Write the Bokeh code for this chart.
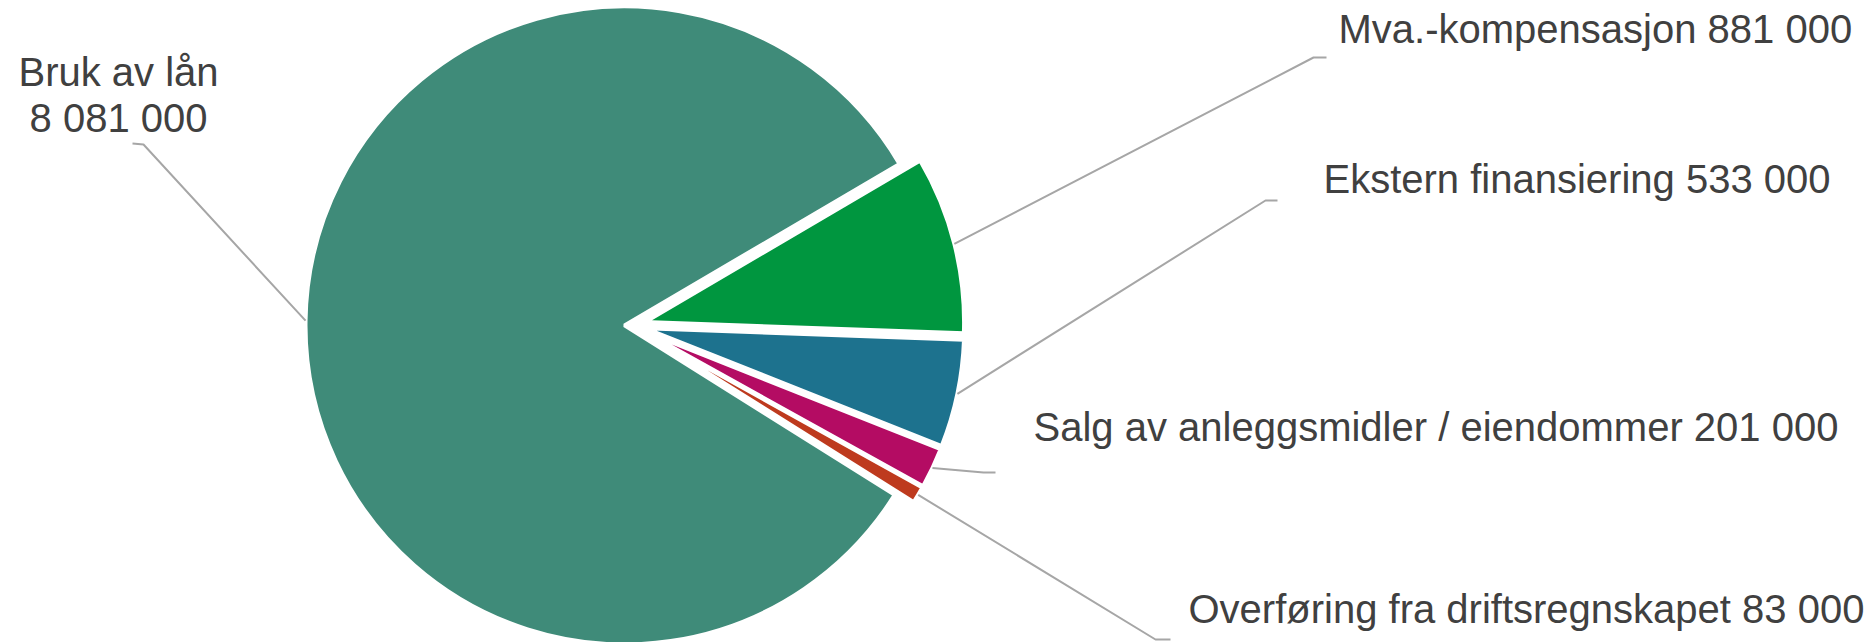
import math
from bokeh.plotting import figure
from bokeh.models import Range1d, ColumnDataSource
from bokeh.core.properties import value
from bokeh.embed import file_html
from bokeh.resources import INLINE

# ---------------- data ----------------
categories = [
    "Bruk av lån",
    "Mva.-kompensasjon",
    "Ekstern finansiering",
    "Salg av anleggsmidler / eiendommer",
    "Overføring fra driftsregnskapet",
]
amounts = [8081000, 881000, 533000, 201000, 83000]
colors = ["#3F8B79", "#00963F", "#1D728E", "#B40C63", "#BE3A1E"]

# ---------------- layout / style ----------------
W, H = 1873, 642
CX, CY = 631, 325          # pie centre, screen px
R = 319                    # radius px
FIRST_ANGLE = -32.1        # degrees (math), slices run clockwise
EXPLODE = [7, 14, 14, 14, 14]  # px
EDGE_WIDTH = 4
FONT = "Liberation Sans"
FONT_SIZE = "40px"
TEXT_COLOR = "#404040"
LEADER_COLOR = "#A6A6A6"
BASELINE_FIX = 15          # renderer places alphabetic baseline lower than asked

# label anchors in screen px: text x, baseline y, alignment, two-line?, leader elbow, leader end
LABELS = [
    dict(x=118, y=86, align="center", two=True, elbow=(143, 144), end=(132, 143)),
    dict(x=1338, y=43, align="left", two=False, elbow=(1313, 57), end=(1326, 57)),
    dict(x=1323, y=193, align="left", two=False, elbow=(1265, 200), end=(1277, 200)),
    dict(x=1033, y=441, align="left", two=False, elbow=(983, 472), end=(995, 472)),
    dict(x=1188, y=623, align="left", two=False, elbow=(1155, 639), end=(1170, 639)),
]
LINE_GAP = 46


def fmt(v):
    return f"{v:,}".replace(",", " ")


total = float(sum(amounts))
xs, ys, starts, ends, bis = [], [], [], [], []
cum = 0.0
for i, a in enumerate(amounts):
    frac = a / total
    top = FIRST_ANGLE - 360.0 * cum
    bot = top - 360.0 * frac
    b = math.radians((top + bot) / 2.0)
    e = EXPLODE[i]
    xs.append(CX + e * math.cos(b))
    ys.append(-CY + e * math.sin(b))
    starts.append(math.radians(bot))
    ends.append(math.radians(top))
    bis.append(b)
    cum += frac

src = ColumnDataSource(dict(x=xs, y=ys, start=starts, end=ends, color=colors,
                            cat=categories, amount=amounts))

p = figure(width=W, height=H, x_range=Range1d(0, W), y_range=Range1d(-H, 0),
           x_axis_type=None, y_axis_type=None, output_backend="svg",
           toolbar_location=None, min_border=0)
p.grid.visible = False
p.outline_line_color = None
p.background_fill_color = "white"
p.border_fill_color = "white"

p.wedge(x="x", y="y", radius=R, start_angle="start", end_angle="end",
        direction="anticlock", fill_color="color", line_color="white",
        line_width=EDGE_WIDTH, source=src)

# leader lines (start on the slice arc at its bisector)
lx, ly = [], []
for i in range(len(categories)):
    sx = xs[i] + R * math.cos(bis[i])
    sy = ys[i] + R * math.sin(bis[i])
    L = LABELS[i]
    lx.append([sx, L["elbow"][0], L["end"][0]])
    ly.append([sy, -L["elbow"][1], -L["end"][1]])
p.multi_line(xs=lx, ys=ly, line_color=LEADER_COLOR, line_width=2)

# labels
cx_, cy_, ct_ = [], [], []
lx_, ly_, lt_ = [], [], []
for i, cat in enumerate(categories):
    L = LABELS[i]
    if L["two"]:
        lines = [cat, fmt(amounts[i])]
    else:
        lines = [f"{cat} {fmt(amounts[i])}"]
    for k, t in enumerate(lines):
        yy = -(L["y"] + k * LINE_GAP - BASELINE_FIX)
        if L["align"] == "center":
            cx_.append(L["x"]); cy_.append(yy); ct_.append(t)
        else:
            lx_.append(L["x"]); ly_.append(yy); lt_.append(t)

p.text(x=cx_, y=cy_, text=ct_, text_align="center", text_baseline="alphabetic",
       text_font=value(FONT), text_font_size=FONT_SIZE, text_color=TEXT_COLOR)
p.text(x=lx_, y=ly_, text=lt_, text_align="left", text_baseline="alphabetic",
       text_font=value(FONT), text_font_size=FONT_SIZE, text_color=TEXT_COLOR)

open("out.html", "w").write(file_html(p, INLINE))
